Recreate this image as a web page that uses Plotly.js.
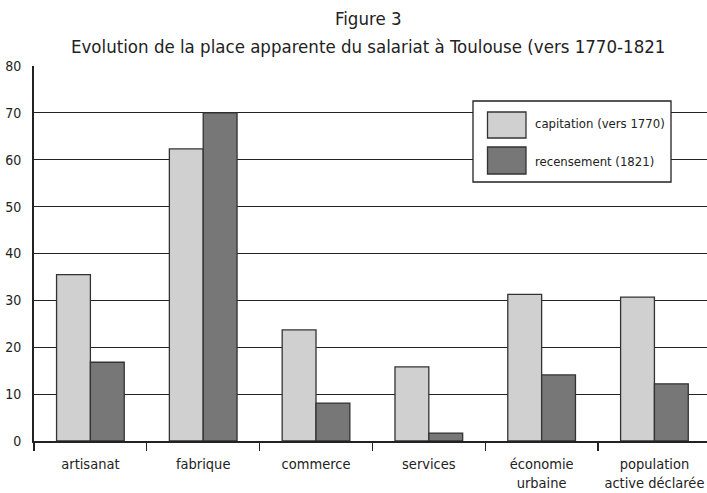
<!DOCTYPE html>
<html>
<head>
<meta charset="utf-8">
<script src="https://cdn.plot.ly/plotly-3.0.1.min.js"></script>
<style>html,body{margin:0;padding:0;background:#fff;}#chart{width:707px;height:493px;}</style>
</head>
<body>
<div id="chart"></div>
<script>
var categories = ["artisanat", "fabrique", "commerce", "services", "économie<br>urbaine", "population<br>active déclarée"];
var seriesNames = ["capitation (vers 1770)", "recensement (1821)"];
var capitation = [35.5, 62.3, 23.7, 15.8, 31.3, 30.7];
var recensement = [16.8, 70.0, 8.1, 1.7, 14.1, 12.2];
var yTicks = [0, 10, 20, 30, 40, 50, 60, 70, 80];
var titleLines = ["Figure 3", "Evolution de la place apparente du salariat à Toulouse (vers 1770-1821"];

var FONT = '"Liberation Sans Narrow", "DejaVu Sans Condensed", "Roboto", sans-serif';
var colors = ['#d0d0d0', '#777777'];

var traces = [
  {type: 'bar', x: categories, y: capitation, name: seriesNames[0],
   marker: {color: colors[0], line: {color: '#333', width: 1.3}}},
  {type: 'bar', x: categories, y: recensement, name: seriesNames[1],
   marker: {color: colors[1], line: {color: '#333', width: 1.3}}}
];

function px2x(p){ return (p - 34) / 673; }
function px2y(p){ return (441 - p) / 375; }

var shapes = [
  {type: 'rect', xref: 'paper', yref: 'paper', x0: px2x(473), x1: px2x(671), y0: px2y(182), y1: px2y(101),
   fillcolor: '#fff', line: {color: '#222', width: 1.3}, layer: 'above'},
  {type: 'rect', xref: 'paper', yref: 'paper', x0: px2x(487.5), x1: px2x(526), y0: px2y(138), y1: px2y(112),
   fillcolor: colors[0], line: {color: '#333', width: 1.3}, layer: 'above'},
  {type: 'rect', xref: 'paper', yref: 'paper', x0: px2x(487.5), x1: px2x(526), y0: px2y(174), y1: px2y(147),
   fillcolor: colors[1], line: {color: '#333', width: 1.3}, layer: 'above'}
];
var annotations = [
  {xref: 'paper', yref: 'paper', x: px2x(533), y: px2y(124), xanchor: 'left', yanchor: 'middle',
   text: seriesNames[0], showarrow: false, font: {family: FONT, size: 13, color: '#222'}},
  {xref: 'paper', yref: 'paper', x: px2x(533), y: px2y(161), xanchor: 'left', yanchor: 'middle',
   text: seriesNames[1], showarrow: false, font: {family: FONT, size: 13, color: '#222'}},
  {xref: 'paper', yref: 'paper', x: px2x(368), y: px2y(18), xanchor: 'center', yanchor: 'middle',
   text: titleLines[0], showarrow: false, font: {family: FONT, size: 18.5, color: '#222'}},
  {xref: 'paper', yref: 'paper', x: px2x(368), y: px2y(46), xanchor: 'center', yanchor: 'middle',
   text: titleLines[1], showarrow: false, font: {family: FONT, size: 18.5, color: '#222'}}
];

var layout = {
  width: 707, height: 493,
  margin: {l: 34, r: 0, t: 66, b: 52},
  paper_bgcolor: '#fff', plot_bgcolor: '#fff',
  font: {family: FONT, size: 14, color: '#222'},
  showlegend: false,
  barmode: 'group', bargap: 0.4, bargroupgap: 0,
  xaxis: {type: 'category', range: [-0.5, 5.466], tickson: 'boundaries', ticks: 'outside',
          ticklen: 8, tickwidth: 1.3, tickcolor: '#222', showline: true, linecolor: '#222', linewidth: 2,
          showgrid: false, zeroline: false, ticklabelstandoff: 9,
          tickfont: {family: FONT, size: 14.5, color: '#222'}},
  yaxis: {range: [0, 80], tickvals: yTicks, ticks: '', showline: true, linecolor: '#222', linewidth: 2,
          showgrid: true, gridcolor: '#222', gridwidth: 1.2, zeroline: false, ticklabelstandoff: 8,
          tickfont: {family: FONT, size: 14, color: '#222'}},
  shapes: shapes,
  annotations: annotations
};

Plotly.newPlot('chart', traces, layout, {displayModeBar: false, staticPlot: true});
</script>
</body>
</html>
